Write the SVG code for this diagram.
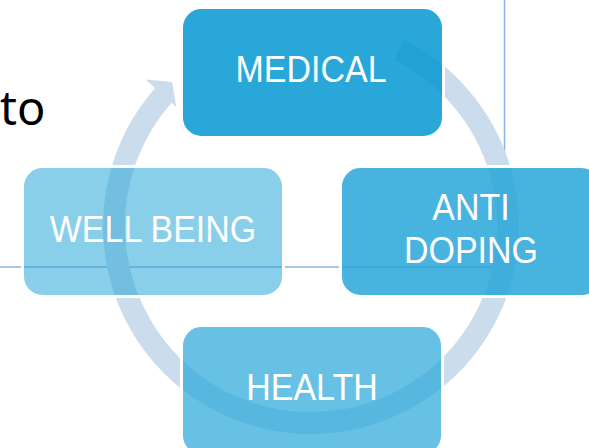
<svg xmlns="http://www.w3.org/2000/svg" width="589" height="448" viewBox="0 0 589 448">
<style>
.frame{stroke:#8DB3E2;stroke-width:1.5;fill:none}
.ring{fill:none;stroke:#CBDCED;stroke-width:22}
.box{fill:#29A7D9;stroke:#FFFFFF;stroke-width:3}
.lbl{font-family:"Liberation Sans",Arial,sans-serif;font-size:34px;fill:#FFFFFF;text-anchor:middle}
</style>
<defs>
<path id="ringArc" d="M 398.9 49.7 A 197 197 0 1 1 164.6 94.2"/>
<clipPath id="medClip"><rect x="183" y="9" width="259" height="127" rx="19"/></clipPath>
</defs>
<rect width="589" height="448" fill="#FFFFFF"/>
<text x="0" y="125" font-family="'Noto Sans','Open Sans',sans-serif" font-size="47" fill="#000000">to</text>
<g id="frame-lines">
<line class="frame" x1="504.5" y1="0" x2="504.5" y2="267"/>
<line class="frame" x1="0" y1="267" x2="504.5" y2="267"/>
</g>
<g id="connectors">
<use href="#ringArc" class="ring"/>
<polygon points="145.5,79.6 172.1,82.1 176.2,106.7" fill="#CBDCED"/>
</g>
<g id="node-wellbeing">
<rect class="box" x="22.5" y="166.5" width="261" height="130" rx="20" fill-opacity="0.55"/>
<text class="lbl" transform="translate(153,242) scale(1,1.11)">WELL BEING</text>
</g>
<g id="node-health">
<rect class="box" x="181.5" y="325.5" width="261" height="130" rx="20" fill-opacity="0.71"/>
<text class="lbl" transform="translate(312,400) scale(1,1.11)">HEALTH</text>
</g>
<g id="node-antidoping">
<rect class="box" x="340.5" y="166.5" width="261" height="130" rx="20" fill-opacity="0.86"/>
<text class="lbl" transform="translate(471,220) scale(1,1.11)">ANTI</text>
<text class="lbl" transform="translate(471,263) scale(1,1.11)">DOPING</text>
</g>
<g id="node-medical">
<rect class="box" x="181.5" y="7.5" width="262" height="130" rx="20"/>
<use href="#ringArc" fill="none" stroke="#1A9FD6" stroke-width="22" stroke-opacity="0.55" clip-path="url(#medClip)"/>
<text class="lbl" transform="translate(311,82) scale(1,1.11)">MEDICAL</text>
</g>
</svg>
